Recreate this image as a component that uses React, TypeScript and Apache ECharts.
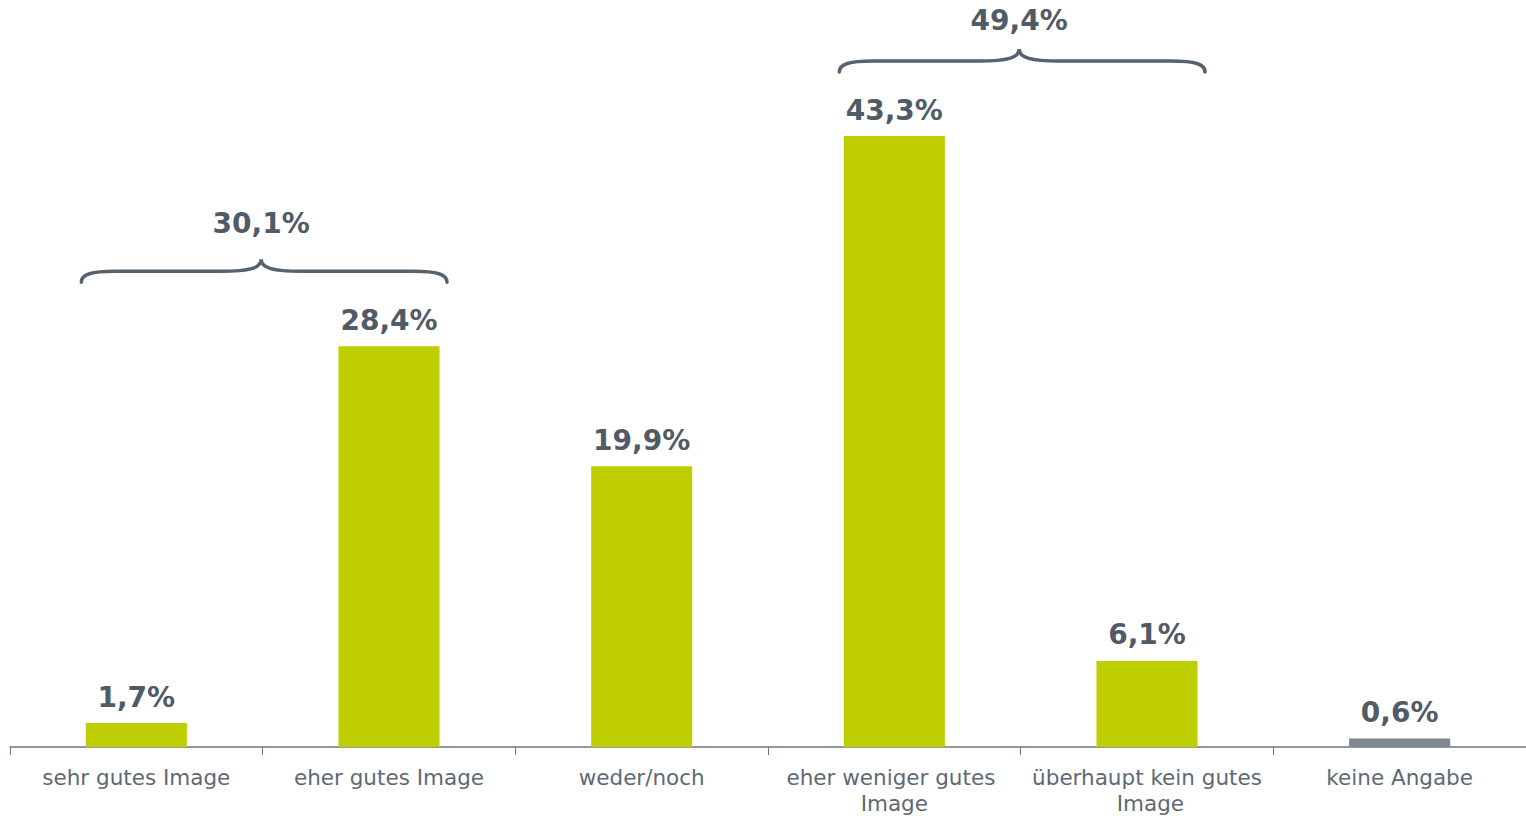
import React, { useEffect, useRef } from "react";
import * as echarts from "echarts";

const categories = [
  "sehr gutes Image",
  "eher gutes Image",
  "weder/noch",
  "eher weniger gutes Image",
  "überhaupt kein gutes Image",
  "keine Angabe",
];
const values = [1.7, 28.4, 19.9, 43.3, 6.1, 0.6];
const groupRanges = [
  [0, 1],
  [3, 4],
];
const groupSums = [30.1, 49.4];

const GREEN = "#bfce00";
const GRAY = "#7f8891";
const LABEL_DARK = "#4f5b67";
const LABEL_TEXT = "#5d6975";
const AXIS = "#6b7783";
const FONT = "DejaVu Sans, Verdana, sans-serif";

const fmt = (v: number) => v.toFixed(1).replace(".", ",") + "%";

export default function App() {
  const ref = useRef<HTMLDivElement>(null);
  useEffect(() => {
    if (!ref.current) return;
    const chart = echarts.init(ref.current, null, { renderer: "svg" });
    chart.setOption({
      animation: false,
      grid: { left: 10, right: 0, top: 41.5, bottom: 63, containLabel: false },
      xAxis: {
        type: "category",
        data: categories,
        axisLine: { lineStyle: { color: AXIS, width: 1.5 } },
        axisTick: { show: true, length: 8, lineStyle: { color: AXIS, width: 1 } },
        axisLabel: {
          color: LABEL_TEXT,
          fontFamily: FONT,
          fontSize: 21.5,
          margin: 17,
          lineHeight: 26,
          width: 240,
          overflow: "break",
          interval: 0,
        },
      },
      yAxis: { type: "value", min: 0, max: 50, show: false, splitLine: { show: false } },
      series: [
        {
          type: "bar",
          data: values,
          barWidth: "40%",
          itemStyle: {
            color: (p: any) => (categories[p.dataIndex] === "keine Angabe" ? GRAY : GREEN),
          },
          label: {
            show: true,
            position: "top",
            distance: 12,
            color: LABEL_DARK,
            fontFamily: FONT,
            fontWeight: "bold",
            fontSize: 28,
            formatter: (p: any) => fmt(p.value),
          },
        },
      ],
    });

    const graphics: any[] = [];
    groupRanges.forEach((g, gi) => {
      const [a, b] = g;
      const xa = chart.convertToPixel({ xAxisIndex: 0 }, a) as number;
      const xb = chart.convertToPixel({ xAxisIndex: 0 }, b) as number;
      const maxV = Math.max(...values.slice(a, b + 1));
      const top = chart.convertToPixel({ yAxisIndex: 0 }, maxV) as number;
      const L = xa - 55;
      const R = xb + 58;
      const c = (L + R) / 2 - 3;
      const yEnd = top - 64;
      const yFlat = yEnd - 11;
      const yTip = yFlat - 12;
      const d =
        `M ${L} ${yEnd} C ${L} ${yFlat + 3} ${L + 10} ${yFlat} ${L + 34} ${yFlat} ` +
        `L ${c - 40} ${yFlat} C ${c - 12} ${yFlat} ${c} ${yFlat - 3} ${c} ${yTip} ` +
        `C ${c} ${yFlat - 3} ${c + 12} ${yFlat} ${c + 40} ${yFlat} ` +
        `L ${R - 34} ${yFlat} C ${R - 10} ${yFlat} ${R} ${yFlat + 3} ${R} ${yEnd}`;
      const name = "brace" + gi;
      echarts.graphic.registerShape(name, echarts.graphic.extendPath(d, {}) as any);
      graphics.push({
        type: name,
        x: 0,
        y: 0,
        scaleX: 1,
        scaleY: 1,
        style: { stroke: "#56626e", lineWidth: 3.5, fill: null, lineCap: "round" },
      });
      graphics.push({
        type: "text",
        x: c,
        y: Math.max(yTip - 36, 20),
        style: {
          text: fmt(groupSums[gi]),
          font: `bold 28px ${FONT}`,
          fill: LABEL_DARK,
          textAlign: "center",
          textVerticalAlign: "middle",
        },
      });
    });
    chart.setOption({ graphic: graphics });

    return () => chart.dispose();
  }, []);
  return (
    <div
      ref={ref}
      style={{ position: "fixed", left: 0, top: 0, width: 1526, height: 816, background: "#fff" }}
    />
  );
}
